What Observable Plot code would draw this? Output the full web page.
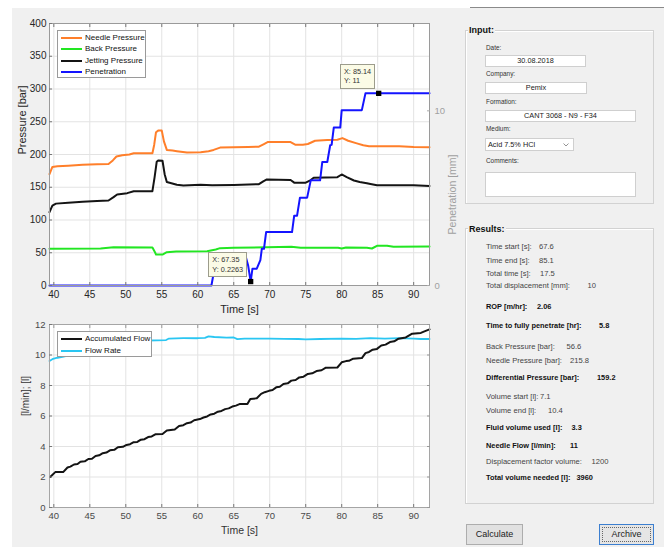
<!DOCTYPE html>
<html>
<head>
<meta charset="utf-8">
<script src="https://cdn.jsdelivr.net/npm/d3@7"></script>
<script src="https://cdn.jsdelivr.net/npm/@observablehq/plot@0.6"></script>
<style>
html,body{margin:0;padding:0;background:#fff;width:664px;height:549px;overflow:hidden;font-family:"Liberation Sans",Arial,sans-serif;}
#bg{position:absolute;left:12px;top:8px;width:652px;height:539px;background:#f0f0f0;}
#topline{position:absolute;left:470px;top:7px;width:194px;height:1px;background:#8a8a8a;}
#chartTop{position:absolute;left:0;top:0;}
#chartBot{position:absolute;left:0;top:300px;}
.legend{position:absolute;background:#fff;border:1px solid #9a9a9a;box-sizing:border-box;}
.lg-row{position:absolute;left:2px;height:10px;font-size:8px;line-height:10px;color:#111;white-space:nowrap;}
.lg-sw{position:absolute;left:1px;top:4px;width:21px;height:2px;}
.lg-tx{position:absolute;left:25px;top:0;}
.group{position:absolute;border:1px solid #d2d2d2;box-shadow:1px 1px 0 #fff inset;box-sizing:border-box;}
.gtitle{position:absolute;background:#f0f0f0;font-weight:bold;font-size:9px;line-height:10px;padding:0 1px;color:#111;}
.lbl{position:absolute;font-size:6.4px;line-height:8px;color:#333;white-space:nowrap;}
.field{position:absolute;background:#fff;border:1px solid #cfcfcf;box-sizing:border-box;font-size:7.3px;color:#222;text-align:center;white-space:nowrap;}
.res{position:absolute;font-size:7.6px;line-height:8px;color:#444;white-space:nowrap;}
.res.b{font-weight:bold;color:#111;font-size:7.4px;}
.btn{position:absolute;box-sizing:border-box;font-size:9px;text-align:center;color:#222;}
.tip{position:absolute;box-sizing:border-box;background:#fbfbe6;border:1px solid #9c9c8c;font-size:7.3px;line-height:9.5px;color:#333;padding:2px 3px;white-space:nowrap;}
</style>
</head>
<body>
<div id="bg"></div>
<div id="topline"></div>
<div id="chartTop"></div>
<div id="chartBot"></div>
<div id="panel"></div>
<script>
// ---------- data ----------
const timeTicks = [40, 45, 50, 55, 60, 65, 70, 75, 80, 85, 90];
const pressureTicks = [0, 50, 100, 150, 200, 250, 300, 350, 400];
const penetrationTicks = [0, 10];
const flowTicks = [0, 2, 4, 6, 8, 10, 12];

const topSeriesNames = ["Needle Pressure", "Back Pressure", "Jetting Pressure", "Penetration"];
const bottomSeriesNames = ["Accumulated Flow", "Flow Rate"];

// [time s, pressure bar]
const needlePressure = [[39.4,170],[39.8,181],[40.5,182],[42,183],[44,184.5],[46,185],[47.6,185.5],[48.2,191],[48.7,197],[49.5,199],[50.5,200],[51.1,202],[53.7,202],[53.95,215],[54.2,234],[54.5,236.5],[55.0,236.5],[55.3,220],[55.7,207],[56.5,206],[57.1,205],[58.5,203],[60.4,203.6],[61.5,205],[62.2,207],[63.1,210.5],[65,211],[67,211.5],[68.5,212],[69.2,216],[69.7,219],[72.9,219],[73.6,214.8],[74.6,215],[75.3,216],[76.3,221],[78,222],[79.4,222.5],[80.1,225],[80.9,221],[82.1,217],[83.0,214],[83.8,212.5],[88,212.5],[90,211.5],[92.2,211]];
const backPressure = [[39.4,56],[46.5,56.5],[48.3,58.5],[53.7,58],[54.0,52],[54.2,47.3],[55.1,47.3],[55.7,50.9],[57,52],[61.3,52.4],[62.5,55],[63.1,57],[65,57.5],[69.6,58.5],[73,59],[74.3,57.5],[79.5,57.5],[80,56.5],[80.6,58],[83.5,57.5],[84.2,56.5],[84.9,60.6],[86.3,60.6],[87.2,59],[92.2,59.6]];
const jettingPressure = [[39.4,112],[39.8,122],[40.3,125],[42,126.5],[44,128],[46,129],[47.6,129.8],[48.3,135],[48.8,139],[50.2,141],[51.1,144],[53.7,144],[54.0,165],[54.3,189],[54.5,190.9],[55.1,190.5],[55.4,170],[55.7,158],[57.1,153.7],[58,152.5],[60.4,154],[62,153],[65,153.5],[68.5,154.7],[69.1,159],[69.6,161.9],[72.9,161],[73.4,157],[75,157],[75.7,161],[76.1,164.4],[79.4,165.4],[80.0,169.5],[80.7,165.4],[81.7,160.3],[82.5,158],[83.5,156.2],[84,155],[84.9,153],[88,153],[90,153],[92.2,152]];
// [time s, penetration mm]
const penetration = [[39.4,0],[61.9,0],[62.6,1.6],[66.7,1.6],[67.0,1.15],[67.35,0.2263],[67.6,0.96],[68.2,0.96],[68.7,1.45],[68.9,2.1],[69.2,2.1],[69.5,3.06],[73.1,3.06],[73.4,4.0],[73.8,4.0],[74.2,5.03],[75.2,5.03],[75.7,6.02],[77.0,6.02],[77.3,7.07],[78.0,7.07],[78.4,8.03],[78.6,8.05],[78.9,9.04],[79.8,9.04],[80.0,10.04],[82.8,10.04],[83.3,11.0],[92.2,11.0]];
const dataTips = [[67.35, 0.2263], [85.14, 11]];

// [time s, litres]
const accumulatedFlow = [[39.5,2.0],[40.2,2.32],[41.3,2.32],[41.9,2.62],[42.3,2.68],[42.8,2.82],[43.3,2.85],[43.7,3.0],[44.3,3.03],[44.8,3.18],[45.3,3.2],[45.8,3.38],[46.3,3.42],[46.8,3.56],[47.3,3.6],[47.8,3.75],[48.4,3.78],[48.9,3.95],[49.6,3.98],[50.1,4.1],[50.6,4.15],[51.1,4.28],[51.6,4.3],[52.1,4.45],[52.6,4.48],[53.1,4.62],[53.6,4.66],[54.1,4.8],[55.1,4.82],[55.7,5.05],[56.8,5.12],[57.4,5.35],[58.0,5.4],[58.5,5.53],[59.0,5.57],[59.5,5.72],[60.3,5.8],[60.8,5.9],[61.3,5.97],[61.8,6.1],[62.3,6.15],[62.8,6.28],[63.3,6.33],[63.8,6.45],[64.3,6.5],[64.8,6.62],[65.3,6.68],[65.8,6.78],[66.9,6.79],[67.3,7.12],[68.2,7.16],[68.8,7.45],[69.3,7.56],[69.9,7.65],[70.4,7.7],[70.9,7.88],[71.4,7.92],[71.9,8.1],[72.5,8.14],[73.0,8.32],[73.6,8.36],[74.1,8.53],[74.7,8.58],[75.3,8.76],[75.9,8.8],[76.5,8.95],[77.2,9.0],[77.8,9.17],[79.4,9.18],[80.0,9.52],[80.6,9.6],[81.0,9.62],[81.6,9.76],[82.8,9.8],[83.3,10.12],[83.8,10.2],[84.3,10.35],[84.9,10.4],[85.5,10.62],[86.1,10.68],[86.7,10.85],[87.3,10.9],[87.9,11.07],[88.9,11.15],[89.8,11.4],[91.0,11.45],[91.5,11.55],[92.2,11.68]];
// [time s, l/min]
const flowRate = [[39.4,9.6],[39.9,9.75],[40.5,9.82],[41.2,9.88],[41.8,9.95],[43,10.15],[45,10.45],[47,10.7],[49,10.85],[51,10.92],[53,10.95],[55.6,10.98],[56,11.08],[58,11.1],[60,11.1],[61,11.12],[61.5,11.22],[62.3,11.18],[64,11.14],[65,11.15],[65.5,11.04],[66.5,11.08],[68,11.08],[70,11.07],[72,11.06],[74,11.05],[75,11.02],[77,11.05],[80,11.07],[82,11.06],[84,11.1],[86,11.08],[88,11.1],[90,11.08],[91,11.05],[92.2,11.05]];

const inputLabels = ["Date:", "Company:", "Formation:", "Medium:", "Comments:"];
const inputValues = ["30.08.2018", "Pemix", "CANT 3068 - N9 - F34", "Acid 7.5% HCl", ""];

const resultLabels = ["Time start [s]:", "Time end [s]:", "Total time [s]:", "Total displacement [mm]:", "ROP [m/hr]:", "Time to fully penetrate [hr]:", "Back Pressure [bar]:", "Needle Pressure [bar]:", "Differential Pressure [bar]:", "Volume start [l]:", "Volume end [l]:", "Fluid volume used [l]:", "Needle Flow [l/min]:", "Displacement factor volume:", "Total volume needed [l]:"];
const resultValues = ["67.6", "85.1", "17.5", "10", "2.06", "5.8", "56.6", "215.8", "159.2", "7.1", "10.4", "3.3", "11", "1200", "3960"];
const resultEmphasis = [false, false, false, false, true, true, false, false, true, false, false, true, true, false, true];
const buttonLabels = ["Calculate", "Archive"];

// ---------- styling / layout (not data) ----------
const FONT = '"Liberation Sans", Arial, sans-serif';
const topColors = ["#ff7f2a", "#22e622", "#141414", "#1414ff"];
const bottomColors = ["#141414", "#2ac6f2"];
const K = 400 / 15; // penetration mm -> pressure axis units (right axis 0..15 mm)
const xDomain = [39.4, 92.2];
const gridColor = "#e3e3e3";
const xy = {x: d => d[0], y: d => d[1]};

const topChart = Plot.plot({
  width: 460, height: 320,
  marginLeft: 49, marginRight: 31, marginTop: 23, marginBottom: 35,
  style: {background: "transparent", fontFamily: FONT, fontSize: "10px", color: "#262626", overflow: "visible"},
  x: {domain: xDomain},
  y: {domain: [0, 400]},
  marks: [
    Plot.frame({fill: "#fff", stroke: null}),
    Plot.gridX(timeTicks, {stroke: gridColor, strokeOpacity: 1}),
    Plot.gridY(pressureTicks, {stroke: gridColor, strokeOpacity: 1}),
    Plot.line(needlePressure, {...xy, stroke: topColors[0], strokeWidth: 2}),
    Plot.line(backPressure, {...xy, stroke: topColors[1], strokeWidth: 2}),
    Plot.line(jettingPressure, {...xy, stroke: topColors[2], strokeWidth: 2}),
    Plot.line(penetration, {x: d => d[0], y: d => d[1] * K, stroke: topColors[3], strokeWidth: 2}),
    Plot.frame({stroke: "#9a9a9a"}),
    Plot.axisX(timeTicks, {tickSize: -3, tickFormat: () => "", label: null, stroke: "#777"}),
    Plot.axisX(timeTicks, {anchor: "top", tickSize: -3, tickFormat: () => "", label: null, stroke: "#777"}),
    Plot.axisX(timeTicks, {tickSize: 0, tickPadding: 5, label: null, fill: "#262626"}),
    Plot.axisY(pressureTicks, {tickSize: -3, tickFormat: () => "", label: null, stroke: "#777"}),
    Plot.axisY(pressureTicks, {tickSize: 0, tickPadding: 3, label: null, fill: "#262626"}),
    Plot.axisY(penetrationTicks.map(v => v * K), {anchor: "right", tickSize: -3, tickFormat: () => "", label: null, stroke: "#aaa"}),
    Plot.axisY(penetrationTicks.map(v => v * K), {anchor: "right", tickSize: 0, tickPadding: 5, tickFormat: d => String(Math.round(d / K)), label: null, fill: "#a0a0a0", fontSize: 9.5}),
    Plot.dot(dataTips, {x: d => d[0], y: d => d[1] * K, symbol: "square", r: 3, fill: "#000"}),
    Plot.text(["Time [s]"], {text: d => d, frameAnchor: "bottom", dy: 27, fontSize: 11, fill: "#262626"}),
    Plot.text(["Pressure [bar]"], {text: d => d, frameAnchor: "left", dx: -27, rotate: -90, fontSize: 11, fill: "#262626"}),
    Plot.text(["Penetration [mm]"], {text: d => d, frameAnchor: "right", dx: 23, rotate: -90, fontSize: 10.5, fill: "#a0a0a0"})
  ]
});
document.getElementById("chartTop").appendChild(topChart);

// data tips: HTML boxes anchored at the chart's own scale positions of the tip points
{
  const sx = topChart.scale("x"), sy = topChart.scale("y");
  dataTips.forEach(([tx, ty]) => {
    const mx = sx.apply(tx), my = sy.apply(ty * K);
    const d = document.createElement("div");
    d.className = "tip";
    d.innerHTML = "X: " + tx.toFixed(2) + "<br>Y: " + String(ty);
    d.style.visibility = "hidden";
    document.body.appendChild(d);
    const r = d.getBoundingClientRect();
    d.style.left = (mx - 3 - r.width) + "px";
    d.style.top = (my - 4 - r.height) + "px";
    d.style.visibility = "visible";
  });
}

const botChart = Plot.plot({
  width: 460, height: 241,
  marginLeft: 49, marginRight: 31, marginTop: 24, marginBottom: 34,
  style: {background: "transparent", fontFamily: FONT, fontSize: "9.5px", color: "#4a4a4a", overflow: "visible"},
  x: {domain: xDomain},
  y: {domain: [0, 12]},
  marks: [
    Plot.frame({fill: "#fff", stroke: null}),
    Plot.gridX(timeTicks, {stroke: gridColor, strokeOpacity: 1}),
    Plot.gridY(flowTicks, {stroke: gridColor, strokeOpacity: 1}),
    Plot.line(flowRate, {...xy, stroke: bottomColors[1], strokeWidth: 1.8}),
    Plot.line(accumulatedFlow, {...xy, stroke: bottomColors[0], strokeWidth: 2}),
    Plot.frame({stroke: "#a5a5a5"}),
    Plot.axisX(timeTicks, {tickSize: -3, tickFormat: () => "", label: null, stroke: "#777"}),
    Plot.axisX(timeTicks, {anchor: "top", tickSize: -3, tickFormat: () => "", label: null, stroke: "#999"}),
    Plot.axisX(timeTicks, {tickSize: 0, tickPadding: 5, label: null, fill: "#4a4a4a"}),
    Plot.axisY(flowTicks, {tickSize: -3, tickFormat: () => "", label: null, stroke: "#777"}),
    Plot.axisY(flowTicks, {anchor: "right", tickSize: -3, tickFormat: () => "", label: null, stroke: "#999"}),
    Plot.axisY(flowTicks, {tickSize: 0, tickPadding: 4, label: null, fill: "#4a4a4a"}),
    Plot.text(["Time [s]"], {text: d => d, frameAnchor: "bottom", dy: 26, fontSize: 10.5, fill: "#333"}),
    Plot.text(["[l/min]; [l]"], {text: d => d, frameAnchor: "left", dx: -24, rotate: -90, fontSize: 10, fill: "#333"})
  ]
});
document.getElementById("chartBot").appendChild(botChart);

// ---------- legends ----------
function legend(names, colors, left, top, width, height, rowTops) {
  const box = document.createElement("div");
  box.className = "legend";
  Object.assign(box.style, {left: left + "px", top: top + "px", width: width + "px", height: height + "px"});
  names.forEach((n, i) => {
    const row = document.createElement("div");
    row.className = "lg-row";
    row.style.top = rowTops[i] + "px";
    row.innerHTML = `<div class="lg-sw" style="background:${colors[i]}"></div><div class="lg-tx">${n}</div>`;
    box.appendChild(row);
  });
  document.body.appendChild(box);
}
legend(topSeriesNames, topColors, 57, 30, 89, 48, [2, 13, 24.5, 35.5]);
legend(bottomSeriesNames, bottomColors, 57, 331, 95, 26, [2, 13.5]);

// ---------- right panel ----------
const panel = document.getElementById("panel");
function el(cls, css, html) {
  const d = document.createElement("div");
  d.className = cls;
  Object.assign(d.style, css);
  if (html !== undefined) d.innerHTML = html;
  panel.appendChild(d);
  return d;
}
// Input group
el("group", {left: "465px", top: "30px", width: "189px", height: "174px"});
el("gtitle", {left: "468px", top: "25px"}, "Input:");
const inputLabelTops = [44, 70, 98, 125, 157];
const inputBoxes = [[485, 55, 101, 12], [485, 82, 102, 12], [485, 110, 151, 12], [485, 138, 89, 13], [485, 172, 151, 25]];
inputLabels.forEach((l, i) => {
  el("lbl", {left: "486px", top: inputLabelTops[i] + "px"}, l);
  const [x, y, w, h] = inputBoxes[i];
  const f = el("field", {left: x + "px", top: y + "px", width: w + "px", height: h + "px", lineHeight: (h - 2) + "px"}, inputValues[i]);
  if (i === 3) {
    f.style.textAlign = "left";
    f.style.paddingLeft = "2px";
    f.innerHTML = inputValues[i] + `<svg style="position:absolute;right:4px;top:4px" width="6" height="4"><path d="M0.5,0.5L3,3L5.5,0.5" fill="none" stroke="#888" stroke-width="0.9"/></svg>`;
  }
});
// Results group
el("group", {left: "465px", top: "228px", width: "189px", height: "276px"});
el("gtitle", {left: "468px", top: "224px"}, "Results:");
const resultRowY = [247, 260.7, 273.7, 286, 306.7, 326, 346.7, 360.7, 378.3, 397.3, 411, 428.3, 445.7, 462.3, 478.3];
const resultValueX = [539, 539, 540, 587.5, 537, 599, 566.5, 570, 597, 540, 548, 571.5, 570, 591.5, 576.5];
resultLabels.forEach((l, i) => {
  const cls = "res" + (resultEmphasis[i] ? " b" : "");
  el(cls, {left: "486px", top: (resultRowY[i] - 4) + "px"}, l);
  el(cls, {left: resultValueX[i] + "px", top: (resultRowY[i] - 4) + "px"}, resultValues[i]);
});
// Buttons
el("btn", {left: "466px", top: "524px", width: "57px", height: "21px", lineHeight: "19px", background: "#e1e1e1", border: "1px solid #adadad"}, buttonLabels[0]);
el("btn", {left: "599px", top: "524px", width: "55px", height: "21px", lineHeight: "19px", background: "#e5e5e5", border: "1px solid #3c7fd0", outline: "1px dotted #666", outlineOffset: "-4px"}, buttonLabels[1]);
</script>
</body>
</html>
